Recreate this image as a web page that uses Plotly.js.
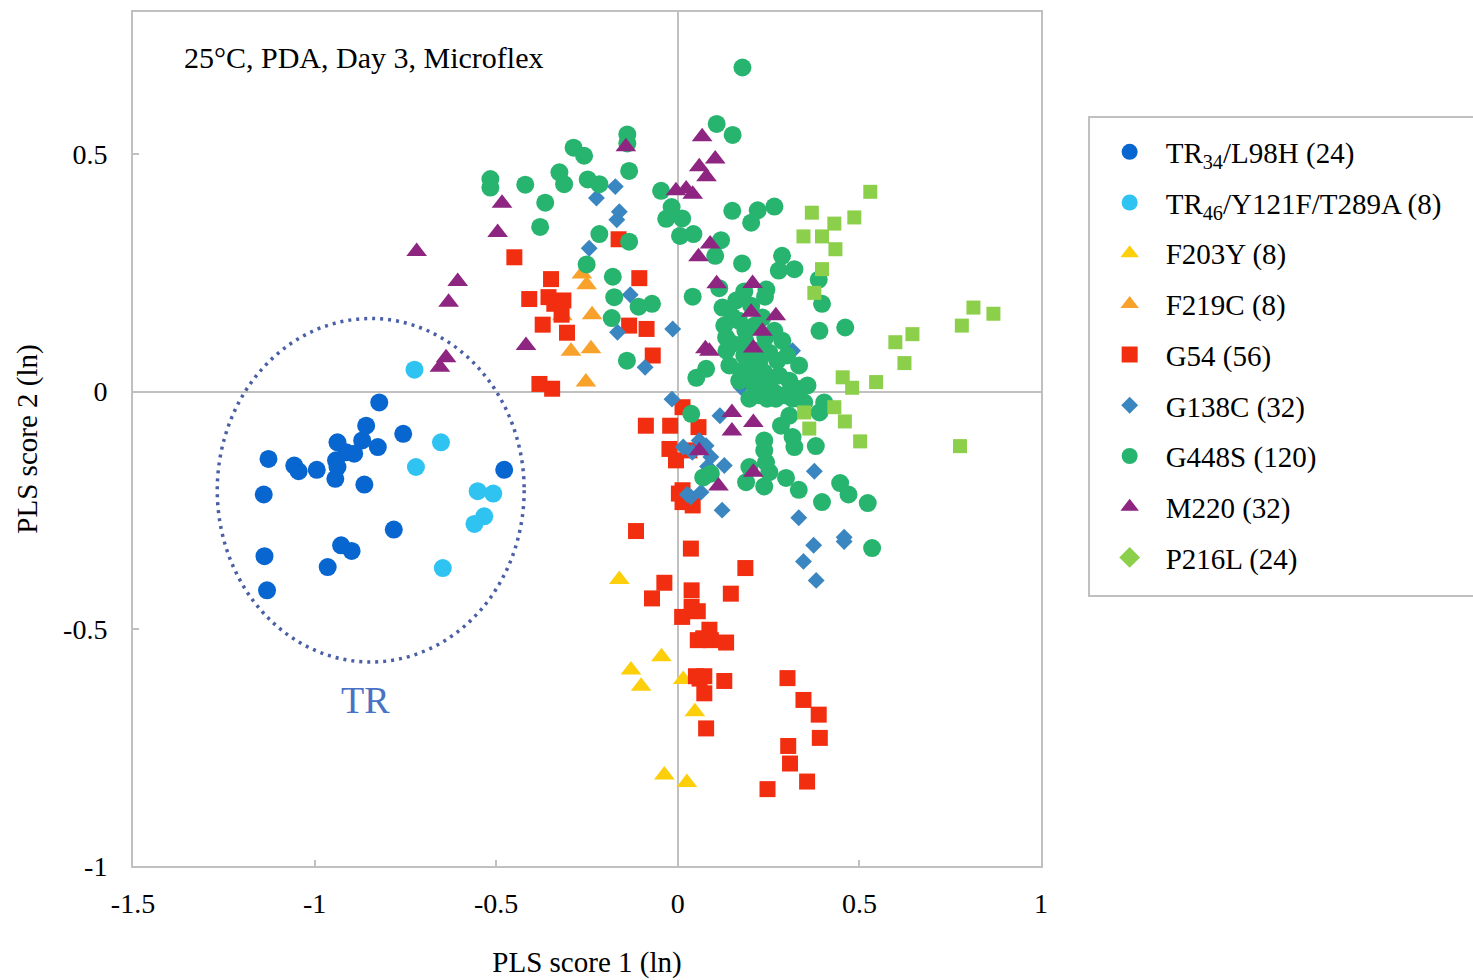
<!DOCTYPE html>
<html>
<head>
<meta charset="utf-8">
<script src="https://cdn.plot.ly/plotly-3.0.1.min.js"></script>
<style>html,body{margin:0;padding:0;background:#fff;}#chart{width:1473px;height:980px;}</style>
</head>
<body>
<div id="chart"></div>
<script>
// ---- Data ----
const seriesNames = [
  "TR<sub>34</sub>/L98H (24)",
  "TR<sub>46</sub>/Y121F/T289A (8)",
  "F203Y (8)",
  "F219C (8)",
  "G54 (56)",
  "G138C (32)",
  "G448S (120)",
  "M220 (32)",
  "P216L (24)"
];

const tr34X = [-0.822,-0.858,-0.937,-0.869,-0.826,-0.756,-0.913,-0.891,-0.941,-0.937,-1.127,-1.056,-1.044,-0.994,-0.943,-0.863,-1.140,-0.478,-0.782,-0.927,-0.898,-0.964,-1.138,-1.131];
const tr34Y = [-0.023,-0.072,-0.107,-0.103,-0.117,-0.089,-0.128,-0.131,-0.145,-0.159,-0.142,-0.156,-0.168,-0.165,-0.184,-0.196,-0.217,-0.165,-0.291,-0.324,-0.336,-0.370,-0.347,-0.419];

const tr46X = [-0.725,-0.652,-0.721,-0.551,-0.508,-0.533,-0.560,-0.647];
const tr46Y = [0.046,-0.107,-0.159,-0.210,-0.215,-0.263,-0.279,-0.372];

const f203X = [-0.161,-0.045,-0.129,-0.101,0.015,0.047,-0.037,0.025];
const f203Y = [-0.396,-0.559,-0.587,-0.621,-0.607,-0.675,-0.808,-0.824];

const f219X = [-0.264,-0.251,-0.236,-0.294,-0.239,-0.253,-0.350,-0.318];
const f219Y = [0.248,0.225,0.162,0.085,0.090,0.020,0.195,0.160];

const g54X = [-0.450,-0.349,-0.409,-0.356,-0.315,-0.320,-0.372,-0.305,-0.163,-0.106,
  -0.134,-0.086,-0.069,-0.381,-0.346,0.013,-0.088,-0.021,0.057,-0.023,
  -0.005,0.032,0.013,0.013,0.041,-0.115,0.036,0.186,-0.037,-0.071,
  0.038,0.146,0.038,0.012,0.055,0.087,0.055,0.091,0.133,0.050,
  0.073,0.128,0.073,0.078,0.302,0.346,0.388,0.391,0.304,0.309,
  0.356,0.247,0.003,0.070,-0.340,0.060];
const g54Y = [0.283,0.237,0.195,0.199,0.192,0.162,0.141,0.124,0.321,0.239,
  0.139,0.132,0.076,0.016,0.006,-0.033,-0.072,-0.072,-0.075,-0.121,
  -0.145,-0.124,-0.208,-0.233,-0.240,-0.294,-0.331,-0.372,-0.403,-0.436,
  -0.419,-0.426,-0.454,-0.475,-0.463,-0.502,-0.524,-0.524,-0.529,-0.600,
  -0.600,-0.610,-0.636,-0.710,-0.604,-0.650,-0.681,-0.730,-0.747,-0.784,
  -0.822,-0.838,-0.215,-0.520,0.185,-0.605];

const g138X = [-0.172,-0.224,-0.161,-0.168,-0.244,-0.131,-0.166,-0.014,-0.090,-0.016,
  0.316,0.174,0.116,0.015,0.078,0.091,0.128,0.082,0.064,0.036,
  0.122,0.376,0.333,0.458,0.458,0.374,0.346,0.381,0.040,0.026,
  0.224,0.059];
const g138Y = [0.432,0.408,0.379,0.362,0.302,0.204,0.125,0.132,0.051,-0.016,
  0.086,0.009,-0.051,-0.117,-0.114,-0.138,-0.156,-0.158,-0.212,-0.222,
  -0.250,-0.168,-0.266,-0.307,-0.316,-0.324,-0.358,-0.398,-0.128,-0.217,
  0.021,-0.103];

const g448X = [-0.516,-0.516,-0.420,-0.365,-0.379,-0.326,-0.313,-0.287,-0.258,-0.248,
  -0.216,-0.139,-0.139,-0.134,-0.216,-0.134,-0.251,-0.179,-0.175,-0.182,
  -0.108,-0.071,-0.140,-0.046,-0.017,-0.032,0.012,0.006,0.043,0.041,
  0.051,0.037,0.178,0.107,0.151,0.150,0.220,0.202,0.266,0.103,
  0.119,0.177,0.287,0.278,0.321,0.388,0.397,0.114,0.183,0.244,
  0.240,0.390,0.461,0.123,0.133,0.142,0.078,0.197,0.357,0.270,
  0.316,0.307,0.284,0.390,0.238,0.238,0.316,0.321,0.380,0.243,
  0.252,0.197,0.091,0.188,0.238,0.298,0.333,0.397,0.447,0.470,
  0.523,0.535,0.070,0.150,0.169,0.186,0.211,0.233,0.241,0.288,
  0.150,0.186,0.216,0.252,0.274,0.224,0.183,0.197,0.238,0.279,
  0.307,0.252,0.211,0.293,0.246,0.329,0.169,0.134,0.334,0.128,
  0.161,0.202,0.266,0.301,0.266,0.224,0.334,0.348,0.403,0.175];
const g448Y = [0.448,0.430,0.436,0.398,0.347,0.462,0.437,0.514,0.497,0.447,
  0.437,0.542,0.523,0.465,0.332,0.316,0.268,0.242,0.199,0.155,
  0.179,0.185,0.065,0.423,0.389,0.364,0.365,0.328,0.332,0.200,
  0.029,-0.047,0.683,0.564,0.541,0.381,0.382,0.356,0.390,0.286,
  0.319,0.270,0.286,0.255,0.258,0.236,0.185,0.218,0.211,0.215,
  0.200,0.128,0.135,0.177,0.114,0.055,0.048,-0.015,0.013,-0.015,
  -0.015,-0.051,-0.072,-0.044,-0.103,-0.124,-0.096,-0.117,-0.115,-0.149,
  -0.170,-0.159,-0.173,-0.191,-0.200,-0.182,-0.207,-0.233,-0.193,-0.217,
  -0.235,-0.330,-0.181,0.158,0.149,0.128,0.139,0.156,0.114,0.107,
  0.101,0.107,0.086,0.082,0.065,0.061,0.076,0.044,0.040,0.034,
  0.023,0.013,0.013,-0.008,-0.015,0.006,0.023,0.086,0.055,0.139,
  0.192,0.181,0.128,0.076,-0.002,-0.008,-0.015,-0.023,-0.023,0.044];

const m220X = [-0.484,-0.496,-0.719,-0.606,-0.631,-0.418,-0.638,-0.655,-0.143,0.067,
  0.103,0.059,0.079,-0.005,0.023,0.041,0.089,0.057,0.107,0.206,
  0.202,0.270,0.233,0.208,0.076,0.087,0.149,0.208,0.149,0.059,
  0.208,0.112];
const m220Y = [0.397,0.335,0.295,0.232,0.188,0.097,0.071,0.051,0.516,0.537,
  0.490,0.474,0.453,0.423,0.427,0.416,0.311,0.284,0.227,0.228,
  0.167,0.160,0.127,0.092,0.090,0.085,-0.044,-0.065,-0.083,-0.125,
  -0.170,-0.199];

const p216X = [0.530,0.369,0.486,0.431,0.346,0.397,0.434,0.397,0.376,0.814,
  0.869,0.782,0.646,0.599,0.624,0.454,0.480,0.546,0.348,0.431,
  0.460,0.362,0.502,0.777];
const p216Y = [0.421,0.377,0.367,0.354,0.327,0.327,0.300,0.258,0.208,0.177,
  0.164,0.139,0.121,0.104,0.060,0.030,0.008,0.020,-0.044,-0.033,
  -0.063,-0.078,-0.105,-0.115];

const xTickVals = [-1.5,-1,-0.5,0,0.5,1];
const xTickText = ["-1.5","-1","-0.5","0","0.5","1"];
const yTickVals = [-1,-0.5,0,0.5];
const yTickText = ["-1","-0.5","0","0.5"];

const chartTitle = "25°C, PDA, Day 3, Microflex";
const clusterLabel = "TR";
const xTitle = "PLS score 1 (ln)";
const yTitle = "PLS score 2 (ln)";

// ---- Traces ----
function sc(x, y, i, symbol, color, size, extra) {
  return Object.assign({
    type: "scatter", mode: "markers", x: x, y: y,
    name: seriesNames[i], legendgroup: "g" + i,
    marker: {symbol: symbol, color: color, size: size, line: {width: 0}},
    hoverinfo: "x+y+name"
  }, extra || {});
}

const traces = [
  sc(tr34X, tr34Y, 0, "circle", "#0866D0", 18),
  sc(tr46X, tr46Y, 1, "circle", "#2EC3F0", 18),
  sc(f203X, f203Y, 2, "triangle-up", "#FCCF0A", 18),
  sc(f219X, f219Y, 3, "triangle-up", "#F8A12B", 18),
  sc(g54X, g54Y, 4, "square", "#F22E10", 16),
  sc(g138X, g138Y, 5, "diamond", "#3A86C1", 13),
  sc(g448X, g448Y, 6, "circle", "#27B46F", 18),
  sc(m220X, m220Y, 7, "triangle-up", "#8E2580", 18),
  // legend entry for P216L uses a diamond, as in the reference
  sc([null], [null], 8, "diamond", "#8CCF4A", 16),
  sc(p216X, p216Y, 8, "square", "#8CCF4A", 14, {showlegend: false})
];

const layout = {
  width: 1473, height: 980,
  margin: {l: 133, r: 432, t: 12, b: 114},
  paper_bgcolor: "#ffffff", plot_bgcolor: "#ffffff",
  font: {family: "Liberation Serif, Times New Roman, serif", size: 29, color: "#000000"},
  showlegend: true,
  xaxis: {
    range: [-1.5, 1], tickmode: "array", tickvals: xTickVals, ticktext: xTickText,
    ticks: "inside", ticklen: 6, tickwidth: 2, tickcolor: "#c0c0c0",
    showline: true, mirror: true, linecolor: "#c0c0c0", linewidth: 2,
    zeroline: true, zerolinecolor: "#c0c0c0", zerolinewidth: 2,
    showgrid: false, ticklabelstandoff: 11,
    tickfont: {size: 28},
    title: {text: xTitle, font: {size: 29}, standoff: 34}
  },
  yaxis: {
    range: [-1, 0.8], tickmode: "array", tickvals: yTickVals, ticktext: yTickText,
    ticks: "inside", ticklen: 6, tickwidth: 2, tickcolor: "#c0c0c0",
    showline: true, mirror: true, linecolor: "#c0c0c0", linewidth: 2,
    zeroline: true, zerolinecolor: "#c0c0c0", zerolinewidth: 2,
    showgrid: false, ticklabelstandoff: 18,
    tickfont: {size: 28},
    title: {text: yTitle, font: {size: 29}, standoff: 17}
  },
  legend: {
    x: 1.058, y: 0.866, xanchor: "left", yanchor: "top",
    borderwidth: 0, bgcolor: "rgba(0,0,0,0)",
    font: {size: 29}, tracegroupgap: 10, traceorder: "grouped",
    itemwidth: 62
  },
  shapes: [
    {type: "circle", xref: "x", yref: "y",
     x0: -1.268, x1: -0.423, y0: -0.570, y1: 0.154,
     line: {color: "#4A5FA6", width: 3.5, dash: "3px,5px"}, layer: "above"},
    // legend frame (extends past the right edge, as in the reference)
    {type: "rect", xref: "paper", yref: "paper",
     x0: 1.0529, x1: 1.50, y0: (866 - 596) / 854, y1: (866 - 117) / 854,
     line: {color: "#c0c0c0", width: 2}, fillcolor: "rgba(0,0,0,0)", layer: "below"}
  ],
  annotations: [
    {text: chartTitle, xref: "paper", yref: "paper", x: 0.054, y: 0.947,
     xanchor: "left", yanchor: "middle", showarrow: false, font: {size: 30}},
    {text: clusterLabel, xref: "x", yref: "y", x: -0.859, y: -0.650,
     xanchor: "center", yanchor: "middle", showarrow: false,
     font: {size: 38, color: "#4A72C4"}}
  ]
};

Plotly.newPlot("chart", traces, layout, {displayModeBar: false, staticPlot: true});
</script>
</body>
</html>
